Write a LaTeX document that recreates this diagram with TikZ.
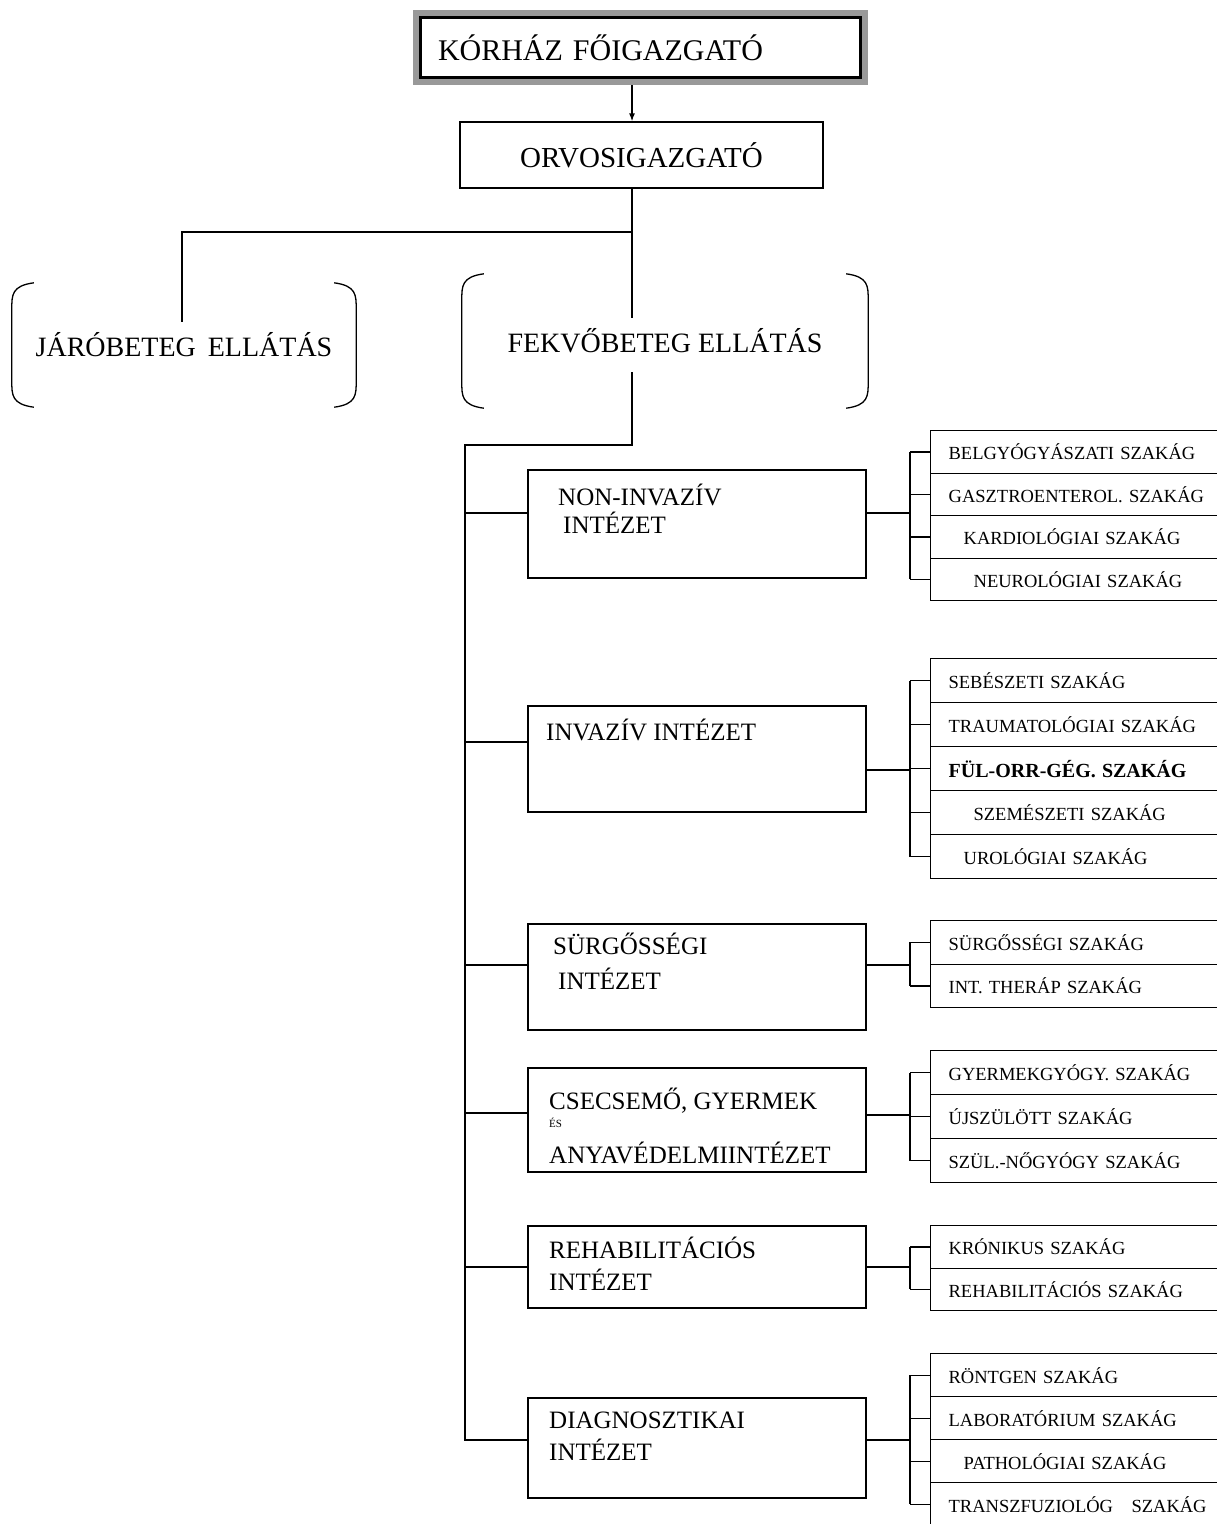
\documentclass[tikz,border=0pt]{standalone}
\usepackage{fontspec}
\setmainfont{Liberation Serif}
\usetikzlibrary{arrows.meta}

\tikzset{
  ln/.style={line width=1.3pt},
  arr/.style={-{Latex[length=8pt,width=6pt]}, line width=1.3pt},
  mainbox/.style={draw, line width=1.3pt, inner sep=0pt},
  bigtext/.style={inner sep=0pt, font=\fontsize{28}{32}\selectfont},
  ibox/.style={draw, line width=1.3pt, inner sep=0pt, minimum width=338pt},
  itext/.style={inner sep=0pt, align=left, anchor=west, font=\fontsize{25}{30}\selectfont},
  sbox/.style={draw, line width=1.3pt, inner sep=0pt, text width=295pt, align=left,
    anchor=north west, font=\fontsize{18.5}{20}\selectfont},
}

\begin{document}
\begin{tikzpicture}[x=1pt, y=-1pt]
  \useasboundingbox (0,0) rectangle (1217,1524);
  \clip (0,0) rectangle (1217,1524);

  % head of the hospital
  \node[inner sep=0pt, minimum height=75pt, text width=455pt, align=left,
    font=\fontsize{30}{34}\selectfont] (head) at (640.5,47.5) {\hspace*{25pt}KÓRHÁZ FŐIGAZGATÓ};
  \draw[line width=6pt, black!40] ([shift={(3pt,-3pt)}]head.north west) rectangle ([shift={(-3pt,3pt)}]head.south east);
  \draw[line width=3pt] ([shift={(7.5pt,-7.5pt)}]head.north west) rectangle ([shift={(-7.5pt,7.5pt)}]head.south east);
  \node[mainbox, minimum width=363pt, minimum height=66pt, font=\fontsize{29}{33}\selectfont] (orvos) at (641.5,155) {ORVOSIGAZGATÓ};

  \coordinate (split) at (632,232);
  \draw[arr] (head.south -| split) -- (orvos.north -| split);

  % ellatas
  \node[bigtext, minimum width=344pt, minimum height=124pt] (jaro) at (184,345) {JÁRÓBETEG\hspace{12pt}ELLÁTÁS};
  \node[bigtext, minimum width=406pt, minimum height=134pt] (fekvo) at (665,341) {FEKVŐBETEG ELLÁTÁS};
  \foreach \n in {jaro,fekvo} {
    \draw[ln] ([xshift=22pt]\n.north west) .. controls ([yshift=-3pt]\n.north west) and ([yshift=-12pt]\n.north west) .. ([yshift=-26pt]\n.north west)
      -- ([yshift=26pt]\n.south west) .. controls ([yshift=12pt]\n.south west) and ([yshift=3pt]\n.south west) .. ([xshift=22pt]\n.south west);
    \draw[ln] ([xshift=-22pt]\n.north east) .. controls ([yshift=-3pt]\n.north east) and ([yshift=-12pt]\n.north east) .. ([yshift=-26pt]\n.north east)
      -- ([yshift=26pt]\n.south east) .. controls ([yshift=12pt]\n.south east) and ([yshift=3pt]\n.south east) .. ([xshift=-22pt]\n.south east);
  }

  \coordinate (jin) at (182,322);
  \coordinate (fin) at (632,318);
  \coordinate (fout) at (632,372);
  \coordinate (tr) at (465,445);
  \coordinate (trend) at (465,1440);
  \draw[ln] (orvos.south -| split) -- (split) -| (jin);
  \draw[ln] (split) -- (fin);
  \draw[ln] (fout) |- (tr) -- (trend);

  % intezetek
  \node[ibox, minimum height=108pt] (noninv) at (697,524) {};
  \node[itext] (noninvt) at (558,509) {NON-INVAZÍV\\[-2pt]\hspace*{5pt}INTÉZET};
  \node[ibox, minimum height=106pt] (inv) at (697,759) {};
  \node[itext] (invt) at (546,730) {INVAZÍV INTÉZET};
  \node[ibox, minimum height=106pt] (surg) at (697,977) {};
  \node[itext] (surgt) at (553,961) {SÜRGŐSSÉGI\\[5pt]\hspace*{5pt}INTÉZET};
  \node[ibox, minimum height=104pt] (csec) at (697,1120) {};
  \node[itext] (csect) at (549,1126) {CSECSEMŐ, GYERMEK\\[-12pt]{\fontsize{11}{12}\selectfont ÉS}\\[6pt]ANYAVÉDELMIINTÉZET};
  \node[ibox, minimum height=82pt] (rehab) at (697,1267) {};
  \node[itext] (rehabt) at (549,1264) {REHABILITÁCIÓS\\[2pt]INTÉZET};
  \node[ibox, minimum height=100pt] (diag) at (697,1448) {};
  \node[itext] (diagt) at (549,1436) {DIAGNOSZTIKAI\\[2pt]INTÉZET};

  \draw[ln] ([yshift=11pt]noninv.west) -- ++(-63pt,0);
  \draw[ln] ([yshift=17pt]inv.west) -- ++(-63pt,0);
  \draw[ln] ([yshift=12pt]surg.west) -- ++(-63pt,0);
  \draw[ln] ([yshift=7pt]csec.west) -- ++(-63pt,0);
  \draw[ln] (rehab.west) -- ++(-63pt,0);
  \draw[ln] ([yshift=8pt]diag.west) -- ++(-63pt,0);

  % szakagak - non-invaziv
  \foreach \off/\txt [count=\i] in {18/BELGYÓGYÁSZATI SZAKÁG, 18/GASZTROENTEROL. SZAKÁG, 33/KARDIOLÓGIAI SZAKÁG, 43/NEUROLÓGIAI SZAKÁG}
    \node[sbox, minimum height=42.5pt] (a\i) at (930,{430+42.5*(\i-1)}) {\hspace*{\off pt}\txt};
  \foreach \i in {1,...,4} \draw[ln] (a\i.west) -- ++(-20pt,0);
  \draw[ln] ([xshift=-20pt]a1.west) -- ([xshift=-20pt]a4.west);
  \draw[ln] ([yshift=11pt]noninv.east) -- ++(44pt,0);

  % invaziv
  \foreach \off/\txt [count=\i] in {18/SEBÉSZETI SZAKÁG, 18/TRAUMATOLÓGIAI SZAKÁG, 18/{\fontsize{20}{22}\selectfont\bfseries FÜL-ORR-GÉG. SZAKÁG}, 43/SZEMÉSZETI SZAKÁG, 33/UROLÓGIAI SZAKÁG}
    \node[sbox, minimum height=44pt] (b\i) at (930,{658+44*(\i-1)}) {\hspace*{\off pt}\txt};
  \foreach \i in {1,...,5} \draw[ln] (b\i.west) -- ++(-20pt,0);
  \draw[ln] ([xshift=-20pt]b1.west) -- ([xshift=-20pt]b5.west);
  \draw[ln] ([yshift=-11pt]inv.east) -- ++(44pt,0);

  % surgossegi
  \foreach \off/\txt [count=\i] in {18/SÜRGŐSSÉGI SZAKÁG, 18/INT. THERÁP SZAKÁG}
    \node[sbox, minimum height=43.5pt] (c\i) at (930,{920+43.5*(\i-1)}) {\hspace*{\off pt}\txt};
  \foreach \i in {1,2} \draw[ln] (c\i.west) -- ++(-20pt,0);
  \draw[ln] ([xshift=-20pt]c1.west) -- ([xshift=-20pt]c2.west);
  \draw[ln] ([yshift=12pt]surg.east) -- ++(44pt,0);

  % csecsemo, gyermek
  \foreach \off/\txt [count=\i] in {18/GYERMEKGYÓGY. SZAKÁG, 18/ÚJSZÜLÖTT SZAKÁG, 18/SZÜL.-NŐGYÓGY SZAKÁG}
    \node[sbox, minimum height=44pt] (d\i) at (930,{1050+44*(\i-1)}) {\hspace*{\off pt}\txt};
  \foreach \i in {1,2,3} \draw[ln] (d\i.west) -- ++(-20pt,0);
  \draw[ln] ([xshift=-20pt]d1.west) -- ([xshift=-20pt]d3.west);
  \draw[ln] ([yshift=5pt]csec.east) -- ++(44pt,0);

  % rehabilitacios
  \foreach \off/\txt [count=\i] in {18/KRÓNIKUS SZAKÁG, 18/REHABILITÁCIÓS SZAKÁG}
    \node[sbox, minimum height=42.5pt] (e\i) at (930,{1225+42.5*(\i-1)}) {\hspace*{\off pt}\txt};
  \foreach \i in {1,2} \draw[ln] (e\i.west) -- ++(-20pt,0);
  \draw[ln] ([xshift=-20pt]e1.west) -- ([xshift=-20pt]e2.west);
  \draw[ln] (rehab.east) -- ++(44pt,0);

  % diagnosztikai
  \foreach \off/\txt [count=\i] in {18/RÖNTGEN SZAKÁG, 18/LABORATÓRIUM SZAKÁG, 33/PATHOLÓGIAI SZAKÁG, 18/TRANSZFUZIOLÓG\quad SZAKÁG}
    \node[sbox, minimum height=43pt] (f\i) at (930,{1353+43*(\i-1)}) {\hspace*{\off pt}\txt};
  \foreach \i in {1,...,4} \draw[ln] (f\i.west) -- ++(-20pt,0);
  \draw[ln] ([xshift=-20pt]f1.west) -- ([xshift=-20pt]f4.west);
  \draw[ln] ([yshift=8pt]diag.east) -- ++(44pt,0);
\end{tikzpicture}
\end{document}
